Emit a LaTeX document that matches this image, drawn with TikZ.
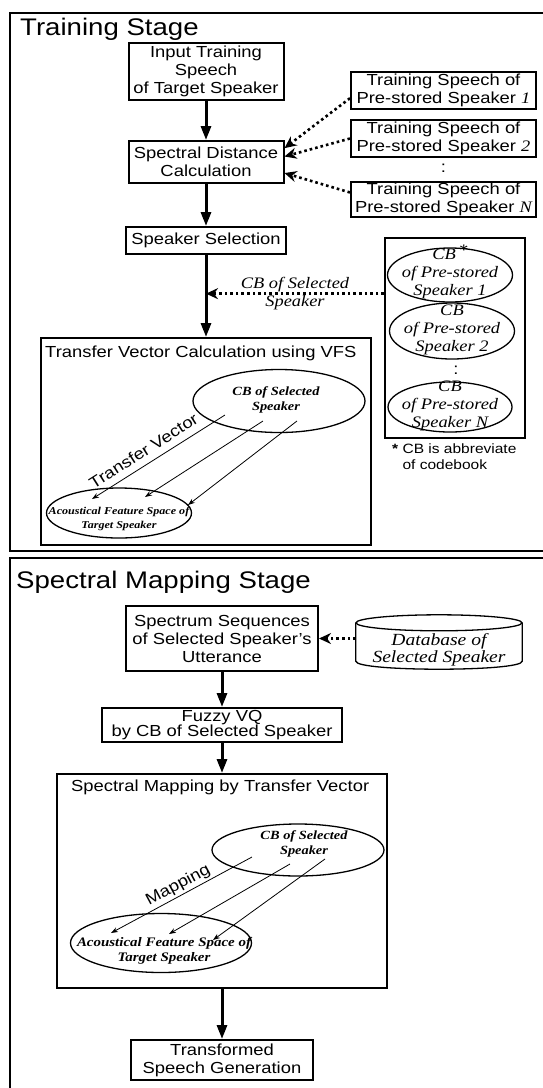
\documentclass[tikz,border=0pt]{standalone}
\usepackage{fontspec}
\setmainfont{Liberation Serif}[FakeStretch=1.15]
\setsansfont{Liberation Sans}[FakeStretch=1.15]
\usetikzlibrary{arrows.meta, shapes.geometric}

\begin{document}
\begin{tikzpicture}[
    x=1pt, y=-1pt,
    frame/.style={line width=2pt},
    box/.style={rectangle, draw, line width=2pt, align=center, inner sep=1pt, font=\sffamily\fontsize{16}{18}\selectfont},
    title/.style={anchor=base west, inner sep=0pt, font=\sffamily\fontsize{24}{28}\selectfont},
    caption/.style={anchor=base west, inner sep=0pt, font=\sffamily\fontsize{16}{18}\selectfont},
    gap/.style={inner sep=0pt, font=\sffamily\fontsize{16}{18}\selectfont},
    cbell/.style={ellipse, draw, line width=1.3pt, inner sep=0pt},
    cbtxt/.style={align=center, inner sep=0pt, font=\rmfamily\itshape\fontsize{16}{18}\selectfont},
    spacetxt/.style={align=center, inner sep=0pt, font=\rmfamily\bfseries\itshape\fontsize{#1}{14.5}\selectfont},
    spacetxt/.default=12.5,
    dbline/.style={line width=1.3pt},
    note/.style={anchor=north west, align=left, inner sep=0pt, font=\sffamily\fontsize{13.5}{16}\selectfont},
    vectxt/.style={inner sep=1pt, font=\sffamily\fontsize{16}{18}\selectfont},
    arrow/.style={-{Triangle[length=14pt,width=10pt]}, line width=3pt},
    dotarrow/.style={-{Stealth[length=12pt,width=11pt]}, line width=2.6pt, dash pattern=on 2.6pt off 3pt},
    vec/.style={-{Stealth[length=7pt,width=5pt]}, line width=0.8pt}
]

% Canvas
\useasboundingbox (0,0) rectangle (542,1088);

% Stage frames
\draw[frame] (548,13) -- (10,13) -- (10,551) -- (548,551);
\draw[frame] (548,558) -- (10,558) -- (10,1095);

% Training stage
\node[title] (train) at (20,35) {Training Stage};
\node[box, minimum width=155pt, minimum height=57pt] (input) at (206,71.5) {Input Training\\Speech\\of Target Speaker};
\node[box, minimum width=155pt, minimum height=42pt] (dist) at (206,162) {Spectral Distance\\Calculation};
\node[box, minimum width=160pt, minimum height=27pt] (sel) at (206,240.5) {Speaker Selection};

% Pre-stored speakers
\node[box, minimum width=185pt, minimum height=37pt] (spk1) at (443.5,90) {Training Speech of\\Pre-stored Speaker {\rmfamily\itshape 1}};
\node[box, minimum width=185pt, minimum height=37pt] (spk2) at (443.5,138.5) {Training Speech of\\Pre-stored Speaker {\rmfamily\itshape 2}};
\node[gap] (spkdots) at (443.5,168) {:};
\node[box, minimum width=185pt, minimum height=35pt] (spkN) at (443.5,199) {Training Speech of\\Pre-stored Speaker {\rmfamily\itshape N}};

% Codebooks
\node[box, minimum width=140pt, minimum height=200pt] (cbbox) at (455,338) {};
\node[cbell, minimum width=125pt, minimum height=54pt, label={[cbtxt, yshift=3pt]center:{CB\,\raisebox{0.6ex}{*}\\of Pre-stored\\Speaker 1}}] (cb1) at (450,275) {};
\node[cbell, minimum width=125pt, minimum height=56pt, label={[cbtxt, yshift=1pt]center:{CB\\of Pre-stored\\Speaker 2}}] (cb2) at (452,331) {};
\node[gap] (cbdots) at (456,370) {:};
\node[cbell, minimum width=124pt, minimum height=50pt, label={[cbtxt, yshift=1pt]center:{CB\\of Pre-stored\\Speaker N}}] (cbN) at (450,407) {};
\node[note] (cbnote) at (392,444) {{\bfseries *} CB is abbreviate\\\hphantom{{\bfseries *} }of codebook};

% Transfer vector calculation
\node[box, minimum width=330pt, minimum height=207pt] (tvc) at (206,441.5) {};
\node[caption] (tvctitle) at (45,357) {Transfer Vector Calculation using VFS};
\node[cbell, minimum width=172pt, minimum height=63pt, label={[spacetxt, xshift=-3pt, yshift=1pt]center:{CB of Selected\\Speaker}}] (selcb) at (279,401) {};
\node[cbell, minimum width=145pt, minimum height=50pt, label={[spacetxt=10.5, yshift=-6pt]center:{Acoustical Feature Space of\\Target Speaker}}] (tgtspace) at (119,513) {};
\coordinate (tv1a) at (225,415);
\coordinate (tv1b) at (92,499);
\coordinate (tv2a) at (263,421);
\coordinate (tv2b) at (145,497);
\coordinate (tv3a) at (297,421);
\coordinate (tv3b) at (188,505);

% Connections
\draw[arrow] (input) -- (dist);
\draw[arrow] (dist) -- (sel);
\draw[arrow] (sel) -- (tvc);
\draw[dotarrow] (spk1.185) -- (dist.10);
\draw[dotarrow] (spk2.west) -- (dist.4);
\draw[dotarrow] (spkN.176) -- (dist.-8);
\draw[dotarrow] (cbbox.148) -- node[cbtxt] {CB of Selected\\Speaker} (sel.south |- cbbox.148);
\draw[vec] (tv1a) -- node[vectxt, pos=0.56, above=6pt, sloped] {Transfer Vector} (tv1b);
\draw[vec] (tv2a) -- (tv2b);
\draw[vec] (tv3a) -- (tv3b);

% Spectral mapping stage
\node[title] (mapstage) at (16,588) {Spectral Mapping Stage};
\node[box, minimum width=192pt, minimum height=65pt] (spec) at (222,638.5) {Spectrum Sequences\\of Selected Speaker's\\Utterance};
\node[box, inner sep=0.5pt, minimum width=240pt, minimum height=34pt, font=\sffamily\fontsize{16}{15}\selectfont] (fuzzy) at (222,725) {Fuzzy VQ\\by CB of Selected Speaker};

% Database drum
\node[minimum width=166pt, minimum height=54pt, inner sep=0pt, label={[cbtxt, font=\rmfamily\itshape\fontsize{17}{17}\selectfont, yshift=-8pt]center:{Database of\\Selected Speaker}}] (dbsel) at (439,642) {};
\draw[dbline] ([yshift=-8pt]dbsel.north) ellipse [x radius=83pt, y radius=8pt];
\draw[dbline] ([yshift=-8pt]dbsel.north west) -- ([yshift=8pt]dbsel.south west)
    .. controls ([yshift=-2.67pt]dbsel.south west) and ([yshift=-2.67pt]dbsel.south east) .. ([yshift=8pt]dbsel.south east)
    -- ([yshift=-8pt]dbsel.north east);

% Spectral mapping by transfer vector
\node[box, minimum width=330pt, minimum height=214pt] (map) at (222,881) {};
\node[caption] (maptitle) at (71,791) {Spectral Mapping by Transfer Vector};
\node[cbell, minimum width=172pt, minimum height=52pt, label={[spacetxt, xshift=6pt, yshift=6pt]center:{CB of Selected\\Speaker}}] (selcb2) at (298,850) {};
\node[cbell, minimum width=181pt, minimum height=59pt, label={[spacetxt=13, xshift=3pt, yshift=-8pt]center:{Acoustical Feature Space of\\Target Speaker}}] (tgtspace2) at (161,943) {};
\coordinate (mv1a) at (252,857);
\coordinate (mv1b) at (111,933);
\coordinate (mv2a) at (290,864);
\coordinate (mv2b) at (169,934);
\coordinate (mv3a) at (325,859);
\coordinate (mv3b) at (213,940);
\node[box, minimum width=182pt, minimum height=40pt] (trans) at (222,1060) {Transformed\\Speech Generation};

% Connections
\draw[dotarrow] (spec.east -| dbsel.west) -- (spec.east);
\draw[arrow] (spec) -- (fuzzy);
\draw[arrow] (fuzzy) -- (map);
\draw[arrow] (map) -- (trans);
\draw[vec] (mv1a) -- node[vectxt, pos=0.49, above=1pt, sloped] {Mapping} (mv1b);
\draw[vec] (mv2a) -- (mv2b);
\draw[vec] (mv3a) -- (mv3b);

\end{tikzpicture}
\end{document}
